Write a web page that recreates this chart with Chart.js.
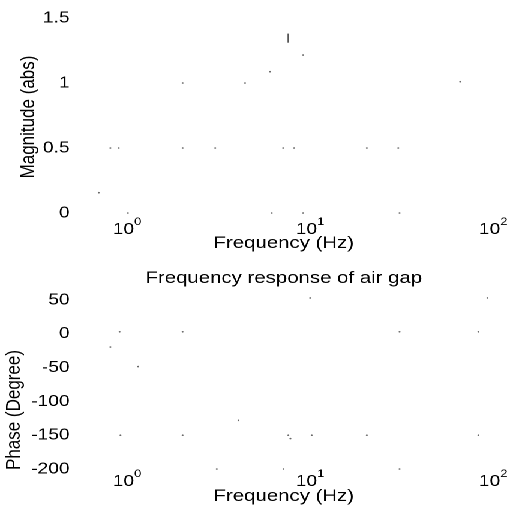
<!DOCTYPE html>
<html>
<head>
<meta charset="utf-8">
<script src="https://cdn.jsdelivr.net/npm/chart.js@4.4.0/dist/chart.umd.min.js"></script>
<style>
  html, body { margin: 0; padding: 0; background: #fff; overflow: hidden; }
  /* the scan is stretched sideways, so draw at 428px and widen by 1.2 */
  #fig { position: absolute; left: 0; top: 0; width: 428px; height: 512px; transform: scaleX(1.2); transform-origin: 0 0; }
  canvas { position: absolute; left: 0; }
</style>
</head>
<body>
<div id="fig">
  <canvas id="magChart" width="428" height="256" style="top:0"></canvas>
  <canvas id="phaseChart" width="428" height="256" style="top:256px"></canvas>
</div>
<script>
// what is left of the traces in the scan: only scattered dots survived
const magFreq = [0.70, 0.81, 0.90, 2.01, 3.03, 7.12, 8.18, 20.4, 30.3, 2.01, 4.41, 66, 6.04, 9.16, 1.01, 6.17, 9.16, 30.8];
const magValues = [0.156, 0.5, 0.5, 0.5, 0.5, 0.5, 0.5, 0.5, 0.5, 1.0, 1.0, 1.01, 1.087, 1.215, 0, 0, 0, 0];
const peakFreq = [7.58, 7.58];
const peakValues = [1.31, 1.38];

const phaseFreq = [10, 93, 0.91, 2.01, 30.8, 83, 0.81, 1.15, 4.06, 0.92, 2.01, 7.6, 7.8, 10.2, 20.4, 83, 3.09, 7.15, 30.8];
const phaseValues = [53, 53, 3, 3, 3, 3, -19.6, -48.5, -128, -150, -150, -150, -155, -150, -150, -150, -200, -200, -200];

const freqTicks = [1, 10, 100];
const freqExp = ["0", "1", "2"];
const magTicks = [0, 0.5, 1, 1.5];
const phaseTicks = [-200, -150, -100, -50, 0, 50];

const FONT = '"Liberation Sans", Arial, Helvetica, sans-serif';

function pts(xs, ys) {
  return xs.map((x, i) => ({ x: x, y: ys[i] }));
}

// tick labels like 10^0 and the axis titles, placed the way the matlab figure has them
const labelsPlugin = {
  id: "labels",
  afterDraw(chart) {
    const o = chart.options.plugins.labels;
    const ctx = chart.ctx;
    const xs = chart.scales.x;
    const area = chart.chartArea;
    ctx.save();
    ctx.fillStyle = "#000";
    ctx.textBaseline = "alphabetic";
    ctx.textAlign = "left";
    freqTicks.forEach((v, i) => {
      const px = xs.getPixelForValue(v);
      ctx.font = "16px " + FONT;
      const w1 = ctx.measureText("10").width;
      ctx.font = "11px " + FONT;
      const w2 = ctx.measureText(freqExp[i]).width;
      const left = px - (w1 + w2) / 2;
      ctx.font = "16px " + FONT;
      ctx.fillText("10", left, o.tickBase);
      ctx.font = "11px " + FONT;
      ctx.fillText(freqExp[i], left + w1, o.tickBase - 9);
    });
    ctx.font = "17px " + FONT;
    ctx.textAlign = "center";
    ctx.fillText("Frequency (Hz)", (area.left + area.right) / 2 + 1, o.xTitleBase);
    if (o.title) ctx.fillText(o.title, (area.left + area.right) / 2 + 1, o.titleBase);
    ctx.translate(o.yTitleX, o.yTitleY);
    ctx.rotate(-Math.PI / 2);
    ctx.textBaseline = "middle";
    ctx.fillText(o.yTitle, 0, 0);
    ctx.restore();
  }
};

function makeChart(id, datasets, yMin, yMax, yTicks, pad, labels) {
  return new Chart(document.getElementById(id), {
    type: "scatter",
    data: { datasets: datasets },
    options: {
      responsive: false,
      animation: false,
      devicePixelRatio: 2,
      layout: { padding: pad },
      plugins: { legend: { display: false }, tooltip: { enabled: false }, labels: labels },
      scales: {
        x: {
          type: "logarithmic",
          min: 0.5,
          max: 100,
          grid: { display: false, drawTicks: false },
          border: { display: false },
          ticks: { display: false }
        },
        y: {
          min: yMin,
          max: yMax,
          afterBuildTicks: (s) => { s.ticks = yTicks.map((v) => ({ value: v })); },
          afterFit: (s) => { s.width = 60; },
          grid: { display: false, drawTicks: false },
          border: { display: false },
          ticks: { color: "#000", padding: 2, font: { family: FONT, size: 16 }, callback: (v) => String(v) }
        }
      }
    },
    plugins: [labelsPlugin]
  });
}

const dotStyle = { pointRadius: 0.8, pointBackgroundColor: "#666", pointBorderWidth: 0, clip: false };

makeChart("magChart", [
  Object.assign({ data: pts(magFreq, magValues) }, dotStyle),
  { data: pts(peakFreq, peakValues), showLine: true, borderColor: "#555", borderWidth: 1, pointRadius: 0, clip: false }
], 0, 1.5, magTicks, { left: 0, right: 17, top: 18, bottom: 43 },
  { tickBase: 234, xTitleBase: 248, yTitle: "Magnitude (abs)", yTitleX: 24, yTitleY: 117 });

makeChart("phaseChart", [
  Object.assign({ data: pts(phaseFreq, phaseValues) }, dotStyle)
], -200, 50, phaseTicks, { left: 0, right: 17, top: 44, bottom: 43 },
  { tickBase: 230, xTitleBase: 245, title: "Frequency response of air gap", titleBase: 27,
    yTitle: "Phase (Degree)", yTitleX: 12, yTitleY: 154 });
</script>
</body>
</html>
